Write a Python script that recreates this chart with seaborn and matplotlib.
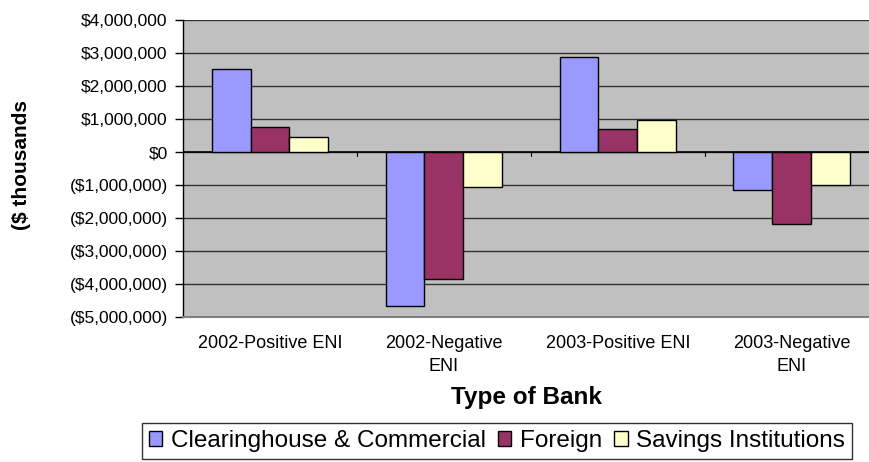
import matplotlib
matplotlib.use("Agg")
import matplotlib.pyplot as plt
import seaborn as sns
import pandas as pd
from matplotlib.ticker import FuncFormatter, MultipleLocator

categories = ["2002-Positive ENI", "2002-Negative\nENI", "2003-Positive ENI", "2003-Negative\nENI"]
series = ["Clearinghouse & Commercial", "Foreign", "Savings Institutions"]
clearinghouse = [2530000, -4660000, 2890000, -1160000]
foreign = [760000, -3850000, 710000, -2170000]
savings = [460000, -1060000, 960000, -1000000]
colors = ["#9999FF", "#993366", "#FFFFCC"]

rows = []
for s, vals in zip(series, [clearinghouse, foreign, savings]):
    for c, v in zip(categories, vals):
        rows.append({"Type of Bank": c, "Series": s, "Value": v})
df = pd.DataFrame(rows)

sns.set_theme(style="white")
plt.rcParams["font.family"] = ["Liberation Sans", "DejaVu Sans"]
plt.rcParams["text.color"] = "black"
plt.rcParams["axes.labelcolor"] = "black"
plt.rcParams["xtick.color"] = "black"
plt.rcParams["ytick.color"] = "black"

fig = plt.figure(figsize=(8.7, 4.62), dpi=100)
ax = fig.add_axes([183/870, 1-317/462, 1-183/870, (317-20)/462])
ax.set_facecolor("#C0C0C0")

sns.barplot(data=df, x="Type of Bank", y="Value", hue="Series", palette=colors,
            hue_order=series, order=categories, width=0.67, edgecolor="black",
            linewidth=1.0, saturation=1, ax=ax, zorder=3)

ax.set_ylim(-5000000, 4000000)
ax.set_xlim(-0.5, 3.45)
ax.yaxis.set_major_locator(MultipleLocator(1000000))

def fmt(v, pos):
    if v < 0:
        return "(${:,.0f})".format(-v)
    return "${:,.0f}".format(v)
ax.yaxis.set_major_formatter(FuncFormatter(fmt))
ax.grid(axis="y", color="#333333", linewidth=1.0, zorder=0)
ax.set_axisbelow(True)
ax.axhline(0, color="black", linewidth=1.2, zorder=2)
for xb in [0.5, 1.5, 2.5]:
    ax.plot([xb, xb], [0, -120000], color="black", linewidth=0.8, zorder=2)

for side in ["top", "right"]:
    ax.spines[side].set_visible(False)
ax.spines["left"].set_color("black")
ax.spines["left"].set_linewidth(1.0)
ax.spines["bottom"].set_color("#808080")
ax.spines["bottom"].set_linewidth(1.5)

ax.tick_params(axis="y", which="major", direction="out", length=6, width=1,
               color="black", labelcolor="black", labelsize=12.5, pad=5, left=True)
ax.tick_params(axis="x", length=0, labelsize=13, labelcolor="black", pad=13)
for t in ax.get_xticklabels():
    t.set_linespacing(1.45)

ax.set_xlabel("Type of Bank", fontsize=17.5, fontweight="bold", labelpad=8, color="black")
ax.set_ylabel("")
fig.text(22/870, 1-165/462, "($ thousands", rotation=90, fontsize=15, fontweight="bold",
         ha="center", va="center", color="black")

handles, labels = ax.get_legend_handles_labels()
ax.get_legend().remove()
leg = fig.legend(handles, labels, loc="center", bbox_to_anchor=(497/870, 1-441/462),
                 ncol=3, fontsize=17.5, frameon=True, fancybox=False, edgecolor="black",
                 handlelength=0.55, handleheight=0.55, handletextpad=0.35, columnspacing=0.5,
                 borderpad=0.3, borderaxespad=0, labelcolor="black")
leg.get_frame().set_linewidth(1.0)

fig.savefig("out.png", dpi=100)
